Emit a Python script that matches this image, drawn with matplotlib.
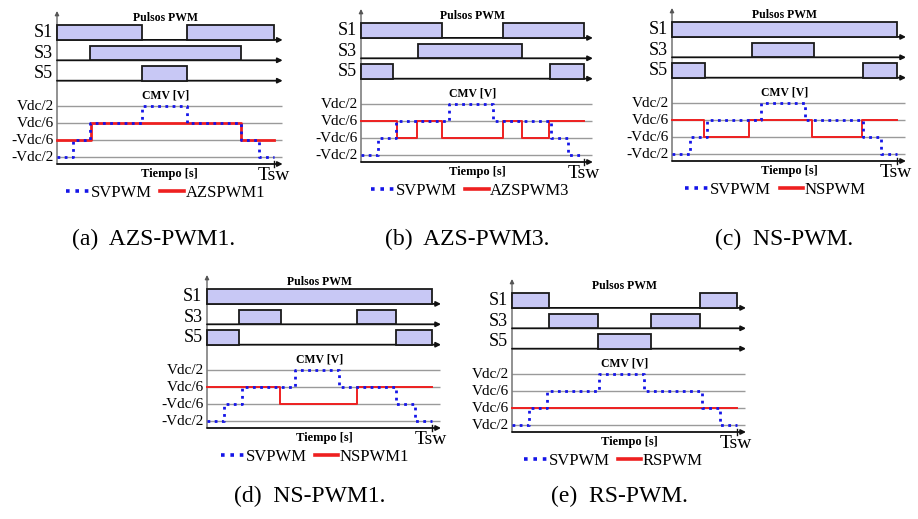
import matplotlib
matplotlib.use("Agg")
import matplotlib.pyplot as plt
from matplotlib.patches import Rectangle

# CMV levels in units of Vdc/6
levels = [3, 1, -1, -3]
level_labels = ["Vdc/2", "Vdc/6", "-Vdc/6", "-Vdc/2"]
level_labels_e = ["Vdc/2", "Vdc/6", "Vdc/6", "Vdc/2"]
row_names = ["S1", "S3", "S5"]

# switching times normalised to Tsw
a_S1 = [(0.0, 0.39), (0.60, 1.0)]
a_S3 = [(0.15, 0.85)]
a_S5 = [(0.39, 0.60)]
a_sv_t = [0, 0.074, 0.152, 0.39, 0.60, 0.85, 0.93, 1.0]
a_sv_v = [-3, -1, 1, 3, 1, -1, -3, -3]
a_mod_t = [0, 0.155, 0.848, 1.0]
a_mod_v = [-1, 1, -1, -1]

b_S1 = [(0.0, 0.363), (0.637, 1.0)]
b_S3 = [(0.256, 0.722)]
b_S5 = [(0.0, 0.143), (0.848, 1.0)]
b_sv_t = [0, 0.077, 0.157, 0.395, 0.59, 0.85, 0.927, 1.0]
b_sv_v = [-3, -1, 1, 3, 1, -1, -3, -3]
b_mod_t = [0, 0.16, 0.25, 0.363, 0.637, 0.72, 0.845, 1.0]
b_mod_v = [1, -1, 1, -1, 1, -1, 1, 1]

c_S1 = [(0.0, 1.0)]
c_S3 = [(0.356, 0.63)]
c_S5 = [(0.0, 0.147), (0.849, 1.0)]
c_sv_t = [0, 0.08, 0.155, 0.395, 0.59, 0.85, 0.93, 1.0]
c_sv_v = [-3, -1, 1, 3, 1, -1, -3, -3]
c_mod_t = [0, 0.14, 0.34, 0.62, 0.845, 1.0]
c_mod_v = [1, -1, 1, -1, 1, 1]

d_S1 = [(0.0, 1.0)]
d_S3 = [(0.142, 0.33), (0.667, 0.84)]
d_S5 = [(0.0, 0.142), (0.84, 1.0)]
d_sv_t = [0, 0.076, 0.155, 0.39, 0.587, 0.84, 0.924, 1.0]
d_sv_v = [-3, -1, 1, 3, 1, -1, -3, -3]
d_mod_t = [0, 0.324, 0.667, 1.0]
d_mod_v = [1, -1, 1, 1]

e_S1 = [(0.0, 0.166), (0.836, 1.0)]
e_S3 = [(0.166, 0.383), (0.618, 0.836)]
e_S5 = [(0.383, 0.618)]
e_sv_t = [0, 0.076, 0.155, 0.387, 0.587, 0.844, 0.924, 1.0]
e_sv_v = [-3, -1, 1, 3, 1, -1, -3, -3]
e_mod_t = [0, 1.0]
e_mod_v = [-1, -1]

mod_names = ["AZSPWM1", "AZSPWM3", "NSPWM", "NSPWM1", "RSPWM"]
captions = ["(a)  AZS-PWM1.", "(b)  AZS-PWM3.", "(c)  NS-PWM.", "(d)  NS-PWM1.", "(e)  RS-PWM."]

# layout in pixels: (time-axis x, bottom axis y, span of Tsw, legend centre t, red lw)
PANEL_POS = [(57, 164, 217, 0.50, 2.0), (361, 162, 223, 0.49, 1.4), (672, 161, 225, 0.46, 1.4),
             (207, 428, 225, 0.48, 1.4), (512, 432, 225, 0.45, 1.4)]
CAPTION_POS = [(154, 239), (467, 239), (784, 239), (310, 496), (619, 496)]

W, H = 918, 519
PX = 8.5          # pixels per data unit (vertical)
Y0, Y1 = -3.8, 14.2
XMAX = 1.06
ROW_BASE = [10.8, 8.4, 6.0]
PULSE_H = 1.7
SERIF = "Liberation Serif"


def draw_panel(fig, pos, pulses, sv, mod, mod_name, lab_levels):
    ax_x, bot, span, leg_t, red_lw = pos
    rect = [ax_x / W, (H - bot) / H, span * XMAX / W, (Y1 - Y0) * PX / H]
    ax = fig.add_axes(rect)
    ax.set_xlim(0, XMAX)
    ax.set_ylim(Y0, Y1)
    ax.axis("off")

    arrow = dict(arrowstyle="-|>", lw=1.3, color="#111111", mutation_scale=7, shrinkA=0, shrinkB=0)
    # vertical axis
    ax.annotate("", xy=(0, Y1), xytext=(0, Y0),
                arrowprops=dict(arrowstyle="-|>", lw=0.9, color="#555555", mutation_scale=6,
                                shrinkA=0, shrinkB=0))

    # pulse rows
    for name, base, ivals in zip(row_names, ROW_BASE, pulses):
        ax.annotate("", xy=(1.04, base), xytext=(0, base), arrowprops=arrow)
        for t0, t1 in ivals:
            ax.add_patch(Rectangle((t0, base), t1 - t0, PULSE_H, facecolor="#c8c8f5",
                                   edgecolor="#1a1a1a", lw=1.3, clip_on=False, zorder=3))
        ax.text(-0.02, base + PULSE_H / 2, name, ha="right", va="center",
                family=SERIF, fontsize=13)

    ax.text(0.5, 13.4, "Pulsos PWM", ha="center", va="center", family=SERIF,
            fontweight="bold", fontsize=8.5)
    ax.text(0.5, 4.3, "CMV [V]", ha="center", va="center", family=SERIF,
            fontweight="bold", fontsize=8.5)

    # CMV grid and labels
    ax.hlines(levels, 0, 1.035, colors="#9a9a9a", lw=1.0, zorder=1)
    for lv, lab in zip(levels, lab_levels):
        ax.text(-0.015, lv, lab, ha="right", va="center", family=SERIF, fontsize=11)

    # time axis
    ax.annotate("", xy=(1.04, Y0), xytext=(0, Y0), arrowprops=arrow)
    ax.plot([1.0, 1.0], [Y0 - 0.3, Y0 + 0.3], color="#111111", lw=1.0, clip_on=False)
    ax.text(0.52, -5.0, "Tiempo [s]", ha="center", va="center", family=SERIF,
            fontweight="bold", fontsize=9)
    ax.text(0.925, -5.2, "Tsw", ha="left", va="center", family=SERIF, fontsize=14)

    # CMV waveforms
    red, = ax.step(mod[0], mod[1], where="post", color="#ee2020", lw=red_lw,
                   clip_on=False, zorder=4, label=mod_name)
    blue, = ax.step(sv[0], sv[1], where="post", color="#1515e8", lw=2.0,
                    linestyle=(0, (1, 1.6)), clip_on=False, zorder=5, label="SVPWM")

    leg = ax.legend(handles=[blue, red], loc="center", bbox_to_anchor=(leg_t, -7.2),
                    bbox_transform=ax.transData, ncol=2, frameon=False,
                    handlelength=1.4, handletextpad=0.1, columnspacing=0.5,
                    borderpad=0, prop=dict(family=SERIF, size=12))
    for line in leg.get_lines():
        line.set_linewidth(2.6)
    return ax


fig = plt.figure(figsize=(W / 100, H / 100), dpi=100)

panels = [
    ([a_S1, a_S3, a_S5], (a_sv_t, a_sv_v), (a_mod_t, a_mod_v), level_labels),
    ([b_S1, b_S3, b_S5], (b_sv_t, b_sv_v), (b_mod_t, b_mod_v), level_labels),
    ([c_S1, c_S3, c_S5], (c_sv_t, c_sv_v), (c_mod_t, c_mod_v), level_labels),
    ([d_S1, d_S3, d_S5], (d_sv_t, d_sv_v), (d_mod_t, d_mod_v), level_labels),
    ([e_S1, e_S3, e_S5], (e_sv_t, e_sv_v), (e_mod_t, e_mod_v), level_labels_e),
]

for pos, (pulses, sv, mod, labs), name in zip(PANEL_POS, panels, mod_names):
    draw_panel(fig, pos, pulses, sv, mod, name, labs)

for (cx, cy), cap in zip(CAPTION_POS, captions):
    fig.text(cx / W, 1 - cy / H, cap, ha="center", va="center", family=SERIF, fontsize=17)

fig.savefig("out.png", dpi=100)
